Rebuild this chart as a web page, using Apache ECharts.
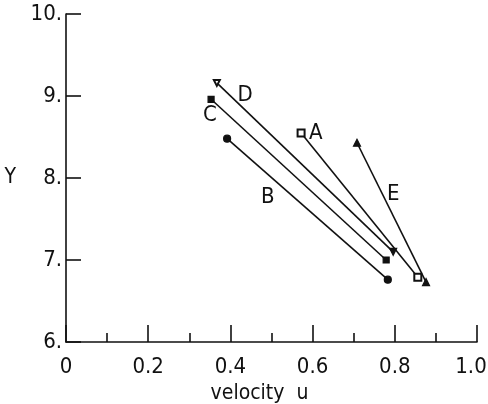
<!DOCTYPE html>
<html>
<head>
<meta charset="utf-8">
<script src="https://cdn.jsdelivr.net/npm/echarts@6/dist/echarts.min.js"></script>
<style>
  html, body { margin: 0; padding: 0; background: #fff; }
  #chart { width: 488px; height: 404px; }
</style>
</head>
<body>
<div id="chart"></div>
<script>
// lines: [velocity u, Y]
const lineA = [[0.572, 8.55], [0.856, 6.79]];
const lineB = [[0.392, 8.48], [0.783, 6.76]];
const lineC = [[0.353, 8.96], [0.779, 7.00]];
const lineD = [[0.367, 9.16], [0.796, 7.10]];
const lineE = [[0.708, 8.43], [0.876, 6.73]];

// where the letters sit next to each line
const labelNames = ['A', 'B', 'C', 'D', 'E'];
const labelPoints = [[0.608, 8.55], [0.491, 7.77], [0.350, 8.77], [0.436, 9.01], [0.796, 7.80]];

const xTicks = ['0', '0.2', '0.4', '0.6', '0.8', '1.0'];
const yTicks = ['6.', '7.', '8.', '9.', '10.'];

const font = "'DejaVu Sans Condensed', 'DejaVu Sans', sans-serif";
const ink = '#111';

function lineSeries(name, data, startSymbol, endSymbol, startSize, endSize) {
    return {
        name: name,
        type: 'line',
        data: [
            { value: data[0], symbol: startSymbol.s, symbolRotate: startSymbol.r || 0, symbolSize: startSize },
            { value: data[1], symbol: endSymbol.s, symbolRotate: endSymbol.r || 0, symbolSize: endSize }
        ],
        lineStyle: { color: ink, width: 1.6 },
        itemStyle: { color: ink, borderColor: ink, borderWidth: 1.2 },
        showAllSymbol: true,
        silent: true,
        z: 3
    };
}

const chart = echarts.init(document.getElementById('chart'));
chart.setOption({
    animation: false,
    backgroundColor: '#fff',
    grid: { left: 66, right: 11, top: 14, bottom: 62, containLabel: false, outerBoundsMode: 'none' },
    xAxis: {
        type: 'value',
        min: 0,
        max: 1,
        interval: 0.2,
        name: 'velocity  u',
        nameLocation: 'middle',
        nameGap: 34,
        nameTextStyle: { fontFamily: font, fontSize: 21, color: ink, padding: [0, 24, 0, 0] },
        axisLine: { show: true, lineStyle: { color: ink, width: 1.6 } },
        axisTick: { show: true, inside: true, length: 17, lineStyle: { color: ink, width: 1.6 } },
        minorTick: { show: true, splitNumber: 2, length: 9, lineStyle: { color: ink, width: 1.6 } },
        splitLine: { show: false },
        axisLabel: {
            margin: 14,
            fontFamily: font,
            fontSize: 22,
            color: ink,
            formatter: function (v) {
                const i = Math.round(v / 0.2);
                // last label sits against the right edge, nudge it in
                return i === xTicks.length - 1 ? '{last|' + xTicks[i] + '}' : xTicks[i];
            },
            rich: {
                last: { fontFamily: font, fontSize: 22, color: ink, padding: [0, 12, 0, 0] }
            }
        }
    },
    yAxis: {
        type: 'value',
        min: 6,
        max: 10,
        interval: 1,
        name: 'Y',
        nameLocation: 'middle',
        nameRotate: 0,
        nameGap: 50,
        nameTextStyle: { fontFamily: font, fontSize: 21, color: ink },
        axisLine: { show: true, lineStyle: { color: ink, width: 1.6 } },
        axisTick: { show: true, inside: true, length: 15, lineStyle: { color: ink, width: 1.6 } },
        splitLine: { show: false },
        axisLabel: {
            margin: 4,
            fontFamily: font,
            fontSize: 22,
            color: ink,
            formatter: function (v) { return yTicks[Math.round(v - 6)]; }
        }
    },
    series: [
        lineSeries('A', lineA, { s: 'emptyRect' }, { s: 'emptyRect' }, 7, 7),
        lineSeries('B', lineB, { s: 'circle' }, { s: 'circle' }, 7, 7),
        lineSeries('C', lineC, { s: 'rect' }, { s: 'rect' }, 6, 6),
        lineSeries('D', lineD, { s: 'emptyTriangle', r: 180 }, { s: 'triangle', r: 180 }, 6, 7),
        lineSeries('E', lineE, { s: 'triangle' }, { s: 'triangle' }, 7, 7),
        {
            name: 'labels',
            type: 'scatter',
            symbolSize: 0,
            silent: true,
            itemStyle: { opacity: 1 },
            data: labelPoints.map(function (p, i) { return { value: p, name: labelNames[i] }; }),
            label: {
                show: true,
                position: 'inside',
                formatter: '{b}',
                fontFamily: font,
                fontSize: 22,
                color: ink,
                opacity: 1
            }
        }
    ]
});
</script>
</body>
</html>
